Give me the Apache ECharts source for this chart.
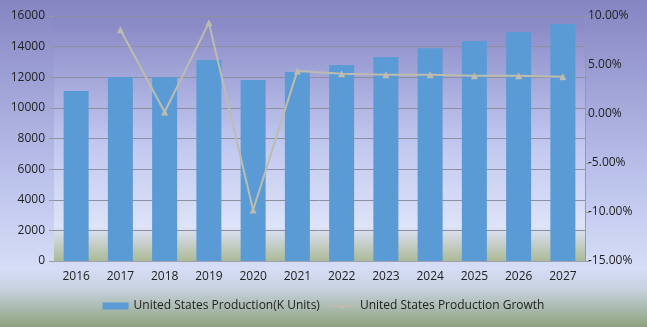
<!DOCTYPE html>
<html><head><meta charset="utf-8">
<script src="https://cdn.jsdelivr.net/npm/echarts@6/dist/echarts.min.js"></script>
<style>html,body{margin:0;padding:0;}#c{width:647px;height:327px;}</style>
</head><body><div id="c"></div>
<script>
var years = ['2016','2017','2018','2019','2020','2021','2022','2023','2024','2025','2026','2027'];
var production = [11100, 12010, 12000, 13130, 11820, 12340, 12800, 13320, 13900, 14370, 14950, 15480];
var growth = [null, 8.6, 0.2, 9.3, -9.8, 4.4, 4.1, 4.0, 4.0, 3.9, 3.9, 3.8];
var leftTicks = [0, 16000, 2000];
var rightTicks = [-15, 10, 5];

var chart = echarts.init(document.getElementById('c'));
var font = 'Open Sans';
chart.setOption({
  animation: false,
  backgroundColor: {type:'linear',x:0,y:0,x2:0,y2:1,colorStops:[
    {offset:0,color:'#8585c2'},{offset:0.55,color:'#bcc3ec'},{offset:0.82,color:'#d6ddf6'},{offset:0.88,color:'#c9d3e2'},{offset:1,color:'#8da37e'}]},
  grid: {left:54, right:62, top:16, bottom:66, show:true, borderWidth:0,
    backgroundColor:{type:'linear',x:0,y:0,x2:0,y2:1,colorStops:[
      {offset:0,color:'#8787c4'},{offset:0.5,color:'#bfc6ee'},{offset:0.86,color:'#dde3f8'},{offset:0.92,color:'#cad1d0'},{offset:1,color:'#abba96'}]}},
  legend: {bottom:10, left:'center', itemGap:8, textStyle:{fontFamily:font,fontSize:12,color:'#222'},
    data:[{name:'United States Production(K Units)', icon:'rect'},
          {name:'United States Production Growth'}],
    itemWidth:26, itemHeight:7},
  xAxis: {type:'category', data:years, axisTick:{show:false},
    axisLine:{lineStyle:{color:'#a0a0b0'}},
    axisLabel:{fontFamily:font,fontSize:12,color:'#222',margin:10}},
  yAxis: [
    {type:'value', min:leftTicks[0], max:leftTicks[1], interval:leftTicks[2], position:'left',
     axisLine:{show:false}, axisTick:{show:true,length:5,lineStyle:{color:'#999'}},
     splitLine:{lineStyle:{color:'#8f8f9f'}},
     axisLabel:{fontFamily:font,fontSize:12,color:'#222',margin:9,formatter:function(v){return String(v);}}},
    {type:'value', min:rightTicks[0], max:rightTicks[1], interval:rightTicks[2], position:'right',
     axisLine:{show:true,lineStyle:{color:'#999'}}, axisTick:{show:true,length:5,lineStyle:{color:'#999'}},
     splitLine:{show:false},
     axisLabel:{fontFamily:font,fontSize:12,color:'#222',margin:3,formatter:function(v){return v.toFixed(2)+'%';}}}
  ],
  series: [
    {name:'United States Production(K Units)', type:'bar', data:production, barWidth:25,
     itemStyle:{color:'#5b9bd5'}},
    {name:'United States Production Growth', type:'line', yAxisIndex:1, data:growth,
     symbol:'triangle', symbolSize:7, lineStyle:{color:'#bdbcae',width:2},
     itemStyle:{color:'#bdbcae'}}
  ]
});
</script></body></html>
